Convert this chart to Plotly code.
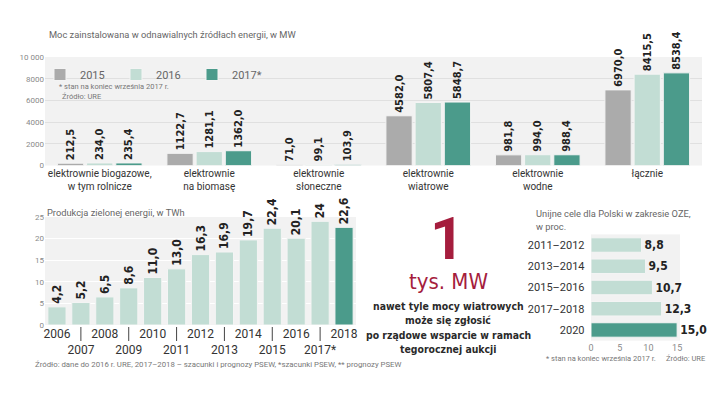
import plotly.graph_objects as go

# top chart: installed capacity, MW
cap_categories = ["elektrownie biogazowe,<br>w tym rolnicze", "elektrownie<br>na biomasę",
                  "elektrownie<br>słoneczne", "elektrownie<br>wiatrowe",
                  "elektrownie<br>wodne", "łącznie"]
cap_2015 = [212.5, 1122.7, 71.0, 4582.0, 981.8, 6970.0]
cap_2016 = [234.0, 1281.1, 99.1, 5807.4, 994.0, 8415.5]
cap_2017 = [235.4, 1362.0, 103.9, 5848.7, 988.4, 8538.4]
cap_series = ["2015", "2016", "2017*"]
cap_ticks = [0, 2000, 4000, 6000, 8000, 10000]
cap_ticktext = ["0", "2000", "4000", "6000", "8000", "10 000"]

# bottom-left: green energy production, TWh
prod_years = ["2006", "2007", "2008", "2009", "2010", "2011", "2012",
              "2013", "2014", "2015", "2016", "2017*", "2018"]
prod_values = [4.2, 5.2, 6.5, 8.6, 11.0, 13.0, 16.3, 16.9, 19.7, 22.4, 20.1, 24, 22.6]
prod_labels = ["4,2", "5,2", "6,5", "8,6", "11,0", "13,0", "16,3", "16,9",
               "19,7", "22,4", "20,1", "24", "22,6"]

# right: EU targets, %
eu_periods = ["2011–2012", "2013–2014", "2015–2016", "2017–2018", "2020"]
eu_values = [8.8, 9.5, 10.7, 12.3, 15.0]

# middle call-out
callout_lines = ["nawet tyle mocy wiatrowych", "może się zgłosić",
                 "po rządowe wsparcie w ramach", "tegorocznej aukcji"]

GRAY = "#ababab"
LIGHT = "#c2ddd4"
TEAL = "#4b9b8b"
CRIMSON = "#a51d3d"
# page body keeps its default 8px margin, so the figure is a bit smaller than the window
OFF = 8
W, H = 720 - 2 * OFF, 406 - 2 * OFF


def px(x):
    return (x - OFF) / W


def py(y):
    return 1 - (y - OFF) / H


def comma(v):
    return f"{v:.1f}".replace(".", ",")


fig = go.Figure()

for name, vals, col in zip(cap_series, [cap_2015, cap_2016, cap_2017], [GRAY, LIGHT, TEAL]):
    fig.add_trace(go.Bar(
        x=cap_categories, y=vals, name=name,
        marker=dict(color=col, line=dict(color="#f4f4f4", width=1)),
        text=[comma(v) for v in vals], textposition="outside", textangle=-90,
        constraintext="none", cliponaxis=False,
        textfont=dict(family="DejaVu Sans Condensed", size=11, color="#222", weight="bold"),
        xaxis="x", yaxis="y",
    ))

fig.add_trace(go.Bar(
    x=prod_years, y=prod_values, width=0.76, showlegend=False,
    marker=dict(color=[LIGHT] * (len(prod_years) - 1) + [TEAL], line=dict(color="#f4f4f4", width=1)),
    text=prod_labels, textposition="outside", textangle=-90,
    constraintext="none", cliponaxis=False,
    textfont=dict(family="DejaVu Sans Condensed", size=12, color="#222", weight="bold"),
    xaxis="x2", yaxis="y2",
))

fig.add_trace(go.Bar(
    y=eu_periods, x=eu_values, orientation="h", width=0.68, showlegend=False,
    marker=dict(color=[LIGHT] * (len(eu_periods) - 1) + [TEAL], line=dict(color="#f4f4f4", width=1)),
    text=[comma(v) for v in eu_values], textposition="outside",
    constraintext="none", cliponaxis=False,
    textfont=dict(family="DejaVu Sans Condensed", size=12, color="#222", weight="bold"),
    xaxis="x3", yaxis="y3",
))

small = dict(family="Roboto", size=8, color="#8a8a8a")

fig.update_layout(
    width=W, height=H, margin=dict(l=0, r=0, t=0, b=0, autoexpand=False),
    paper_bgcolor="white", plot_bgcolor="#f2f2f2",
    barmode="group", bargap=0.2, bargroupgap=0.1,
    font=dict(family="Roboto", color="#333"),
    legend=dict(orientation="h", x=px(40), y=py(60), xanchor="left", yanchor="top",
                font=dict(family="Roboto", size=11, color="#666"),
                entrywidth=31, entrywidthmode="pixels",
                bgcolor="rgba(0,0,0,0)", tracegroupgap=0),
    xaxis=dict(domain=[px(45), px(702)], anchor="y", type="category", showgrid=False, ticks="",
               automargin=False, tickangle=0, tickfont=dict(family="Roboto", size=10, color="#333")),
    yaxis=dict(domain=[py(165.5), py(57)], anchor="x", range=[0, 10000], tickvals=cap_ticks,
               ticktext=cap_ticktext, tickfont=small, gridcolor="#e0e0e0", zeroline=False,
               automargin=False),
    xaxis2=dict(domain=[px(45), px(356)], anchor="y2", type="category", showgrid=False, ticks="",
                automargin=False, range=[-0.5, len(prod_years) - 0.5], tickangle=0,
                tickvals=prod_years,
                ticktext=[y if i % 2 == 0 else "<br>" + y for i, y in enumerate(prod_years)],
                tickfont=dict(family="Roboto", size=12, color="#333")),
    yaxis2=dict(domain=[py(325), py(217)], anchor="x2", range=[0, 25], dtick=5, tickfont=small,
                gridcolor="#ffffff", zeroline=False, automargin=False),
    xaxis3=dict(domain=[px(591), px(680)], anchor="y3", range=[0, 15.5], tickvals=[0, 5, 10, 15],
                showgrid=False, zeroline=False, automargin=False,
                tickfont=dict(family="Roboto", size=9, color="#8a8a8a")),
    yaxis3=dict(domain=[py(340.6), py(234.4)], anchor="x3", type="category", autorange="reversed",
                showgrid=False, ticks="", ticksuffix="  ", automargin=False,
                tickfont=dict(family="Roboto", size=11, color="#333")),
)

# long tick lines pointing to the lower-row years (category index on the x2 axis)
for i, y in enumerate(prod_years):
    if i % 2 == 1:
        fig.add_shape(type="line", xref="x2", yref="paper", x0=i, x1=i,
                      y0=py(327), y1=py(341), line=dict(color="#444", width=1))

notes = [
    (47, 35, "Moc zainstalowana w odnawialnych źródłach energii, w MW", 9.3, "#666"),
    (57, 87, "* stan na koniec września 2017 r.", 7.5, "#777"),
    (60, 97, "Źródło: URE", 7.5, "#777"),
    (45, 212, "Produkcja zielonej energii, w TWh", 9.3, "#666"),
    (33, 364, "Źródło: dane do 2016 r. URE, 2017–2018 – szacunki i prognozy PSEW, *szacunki PSEW, ** prognozy PSEW", 7.8, "#777"),
    (534, 213, "Unijne cele dla Polski w zakresie OZE,", 9.3, "#666"),
    (534, 226, "w proc.", 9.3, "#666"),
    (544, 358, "* stan na koniec września 2017 r.", 7.5, "#777"),
    (664, 358, "Źródło: URE", 7.5, "#777"),
]
for x, y, t, s, c in notes:
    fig.add_annotation(x=px(x), y=py(y), xref="paper", yref="paper", text=t, showarrow=False,
                       xanchor="left", yanchor="middle", font=dict(family="Roboto", size=s, color=c))

fig.add_annotation(x=px(447), y=py(238), xref="paper", yref="paper", text="1", showarrow=False,
                   xanchor="center", yanchor="middle",
                   font=dict(family="Roboto", size=60, color=CRIMSON, weight="bold"))
fig.add_annotation(x=px(448), y=py(281), xref="paper", yref="paper", text="tys. MW", showarrow=False,
                   xanchor="center", yanchor="middle",
                   font=dict(family="DejaVu Sans Condensed", size=22, color=CRIMSON))
for k, line in enumerate(callout_lines):
    fig.add_annotation(x=px(448), y=py(306 + 14.3 * k), xref="paper", yref="paper", showarrow=False,
                       xanchor="center", yanchor="middle", text=line,
                       font=dict(family="DejaVu Sans Condensed", size=10.4, color="#2a2a2a",
                                 weight="bold"))

fig.write_html("out.html")
